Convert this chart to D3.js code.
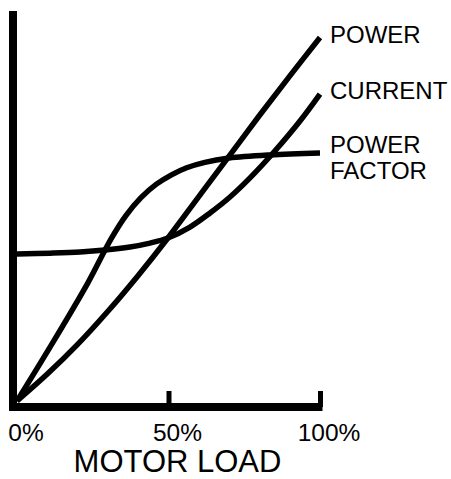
<!DOCTYPE html>
<html>
<head>
<meta charset="utf-8">
<script src="https://cdn.jsdelivr.net/npm/d3@7/dist/d3.min.js"></script>
<style>
  html, body { margin: 0; padding: 0; background: #fff; }
  svg { display: block; }
  text { font-family: "Liberation Sans", Arial, Helvetica, sans-serif; fill: #000; }
</style>
</head>
<body>
<svg id="chart" width="451" height="479"></svg>
<script>
// Motor load (%) vs relative value
const xTicks = [0, 50, 100];
const xTickMarks = [50, 100];
const xTitle = "MOTOR LOAD";

const powerData = [[0,0],[10,6.9],[20,14.5],[30,23],[40,32.2],[50,42],[60,52.4],[70,62.8],[80,73.2],[90,83.3],[100,93.2]];
const pfData = [[0,0],[10.9,13.8],[23.4,30.3],[31,41.5],[36,47.6],[41,52.2],[46,55.6],[51,58],[56,59.8],[62,61.2],[70,62.3],[83.5,63.1],[100,63.6]];
const currentData = [[0,37.7],[10.9,37.9],[20.8,38.2],[29,38.7],[37.3,39.5],[43.9,40.5],[49.8,41.8],[57.1,44.6],[63.7,48.2],[70.3,52.3],[76.9,57.2],[85.1,64.1],[93.4,71.8],[100,78.7]];

const seriesNames = ["POWER", "CURRENT", "POWER FACTOR"];
const seriesData = [powerData, currentData, pfData];

const svg = d3.select("#chart");
const x = d3.scaleLinear().domain([0, 100]).range([17, 320]);
const y = d3.scaleLinear().domain([0, 100]).range([401, 11]);

const line = d3.line().x(d => x(d[0])).y(d => y(d[1])).curve(d3.curveCatmullRom.alpha(0.5));

// curves
svg.append("g").selectAll("path")
  .data(seriesData)
  .join("path")
  .attr("d", line)
  .attr("fill", "none")
  .attr("stroke", "#000")
  .attr("stroke-width", 5.5);

// axes lines
const axisY = y(0) + 6;
svg.append("line")
  .attr("x1", x(0) - 4).attr("x2", x(0) - 4)
  .attr("y1", y(100)).attr("y2", axisY + 4)
  .attr("stroke", "#000").attr("stroke-width", 8);
svg.append("line")
  .attr("x1", x(0) - 8).attr("x2", x(100) + 2.5)
  .attr("y1", axisY).attr("y2", axisY)
  .attr("stroke", "#000").attr("stroke-width", 8);

// tick marks via d3 axis
const ax = svg.append("g")
  .attr("transform", `translate(0,${axisY})`)
  .call(d3.axisBottom(x).tickValues(xTickMarks).tickSize(-16).tickFormat(""));
ax.select(".domain").remove();
ax.selectAll(".tick line").attr("stroke", "#000").attr("stroke-width", 5);

// tick labels
svg.append("g").selectAll("text")
  .data(xTicks)
  .join("text")
  .attr("x", d => x(d) + 9)
  .attr("y", 441)
  .attr("text-anchor", "middle")
  .attr("font-size", 24.5)
  .text(d => d + "%");

// axis title
svg.append("text")
  .attr("x", 177.5).attr("y", 472)
  .attr("text-anchor", "middle")
  .attr("font-size", 31)
  .text(xTitle);

// series labels
const labelLines = [["POWER"], ["CURRENT"], ["POWER", "FACTOR"]];
const labelBase = [43, 99, 153];
labelLines.forEach((lines, i) => {
  const t = svg.append("text")
    .attr("x", 330)
    .attr("y", labelBase[i])
    .attr("font-size", 24);
  lines.forEach((s, j) => {
    t.append("tspan").attr("x", 330).attr("dy", j === 0 ? 0 : 26).text(s);
  });
});
</script>
</body>
</html>
